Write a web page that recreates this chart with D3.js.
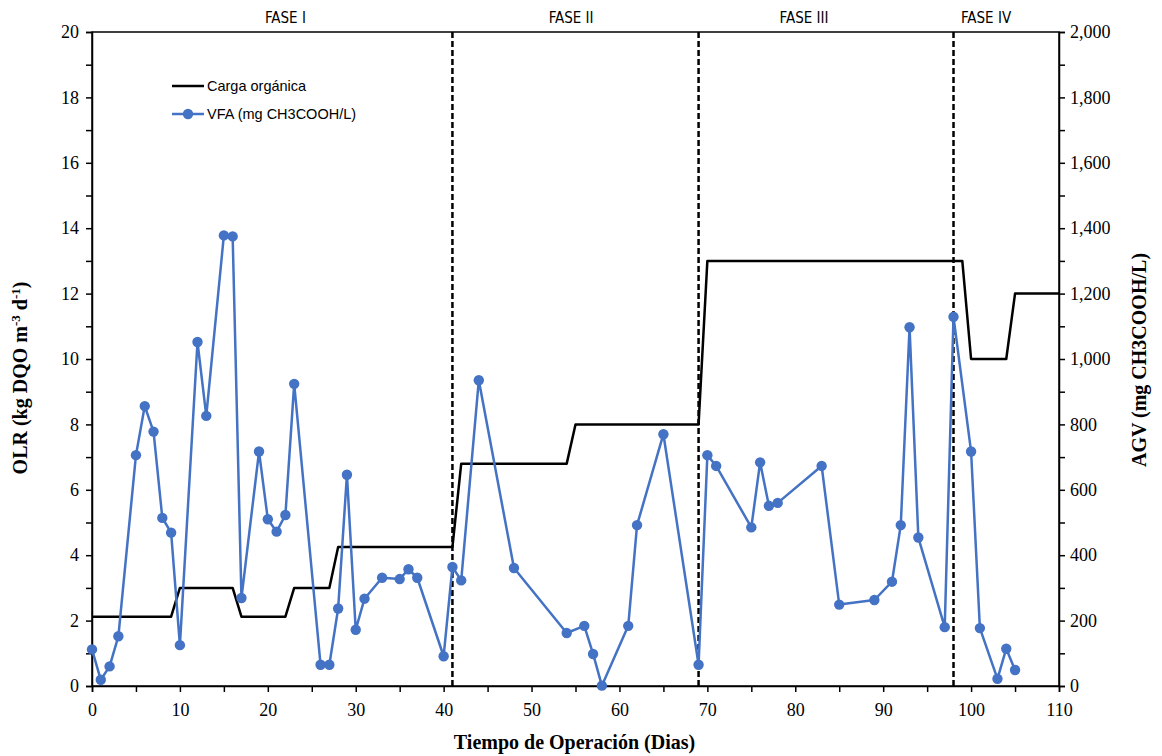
<!DOCTYPE html>
<html>
<head>
<meta charset="utf-8">
<script src="https://cdn.jsdelivr.net/npm/d3@7"></script>
<style>
  html, body { margin: 0; padding: 0; background: #fff; }
  svg { display: block; }
</style>
</head>
<body>
<svg id="chart" width="1162" height="756"></svg>
<script>
// Organic loading rate (kg DQO m-3 d-1): step profile, day / value
const olrDays   = [0, 9, 10, 16, 17, 22, 23, 27, 28, 41, 42, 54, 55, 69, 70, 99, 100, 104, 105, 110];
const olrValues = [2.12, 2.12, 3, 3, 2.12, 2.12, 3, 3, 4.25, 4.25, 6.8, 6.8, 8, 8, 13, 13, 10, 10, 12, 12];

// Volatile fatty acids (mg CH3COOH/L)
const vfaDays   = [0, 1, 2, 3, 5, 6, 7, 8, 9, 10, 12, 13, 15, 16, 17, 19, 20, 21, 22, 23,
                   26, 27, 28, 29, 30, 31, 33, 35, 36, 37, 40, 41, 42, 44, 48, 54, 56, 57, 58,
                   61, 62, 65, 69, 70, 71, 75, 76, 77, 78, 83, 85, 89, 91, 92, 93, 94, 97, 98,
                   100, 101, 103, 104, 105];
const vfaValues = [112, 19, 60, 152, 706, 856, 778, 514, 469, 125, 1052, 826, 1378, 1375, 269, 717, 510, 472, 523, 924,
                   65, 65, 237, 646, 172, 267, 331, 327, 357, 331, 91, 364, 323, 935, 361, 162, 184, 98, 1,
                   184, 492, 770, 65, 706, 673, 485, 684, 551, 560, 673, 249, 263, 319, 492, 1097, 454, 180, 1129,
                   717, 177, 22, 114, 49];

// Phase boundaries and labels
const phaseBounds = [41, 69, 98];
const phaseNames  = ["FASE I", "FASE II", "FASE III", "FASE IV"];
const phaseLabelX = [22, 54.5, 81, 101.7];

const svg = d3.select("#chart");
const m = { left: 92, right: 1059, top: 32, bottom: 686 };

const x  = d3.scaleLinear().domain([0, 110]).range([m.left, m.right]);
const yL = d3.scaleLinear().domain([0, 20]).range([m.bottom, m.top]);
const yR = d3.scaleLinear().domain([0, 2000]).range([m.bottom, m.top]);

const serif = "'Liberation Serif', 'Times New Roman', serif";

// Frame
svg.append("rect")
  .attr("x", m.left).attr("y", m.top)
  .attr("width", m.right - m.left).attr("height", m.bottom - m.top)
  .attr("fill", "none").attr("stroke", "#000").attr("stroke-width", 1.5);

// Axes: minor ticks unlabeled, major ticks labeled
const gx = svg.append("g").attr("transform", `translate(0,${m.bottom})`)
  .call(d3.axisBottom(x).tickValues(d3.range(0, 111, 5)).tickSize(6)
    .tickFormat(d => d % 10 === 0 ? d : ""));
const gl = svg.append("g").attr("transform", `translate(${m.left},0)`)
  .call(d3.axisLeft(yL).tickValues(d3.range(0, 21, 1)).tickSize(6)
    .tickFormat(d => d % 2 === 0 ? d : ""));
const gr = svg.append("g").attr("transform", `translate(${m.right},0)`)
  .call(d3.axisRight(yR).tickValues(d3.range(0, 2001, 100)).tickSize(6)
    .tickFormat(d => d % 200 === 0 ? d3.format(",")(d) : ""));

[gx, gl, gr].forEach(g => {
  g.select(".domain").attr("stroke-width", 1.5);
  g.selectAll(".tick line").attr("stroke-width", 1.5);
  g.selectAll("text").attr("font-family", serif).attr("font-size", 18).attr("fill", "#000");
});
gx.selectAll("text").attr("dy", "1.15em");
gl.selectAll("text").attr("x", -13);
gr.selectAll("text").attr("x", 11);

// Phase separators
svg.append("g").selectAll("line").data(phaseBounds).join("line")
  .attr("x1", d => x(d)).attr("x2", d => x(d))
  .attr("y1", m.top).attr("y2", m.bottom)
  .attr("stroke", "#000").attr("stroke-width", 2.5)
  .attr("stroke-dasharray", "6,3");

svg.append("g").selectAll("text").data(phaseNames).join("text")
  .attr("x", (d, i) => x(phaseLabelX[i])).attr("y", 23)
  .attr("text-anchor", "middle")
  .attr("font-family", "'Liberation Sans Narrow', 'DejaVu Sans Condensed', sans-serif")
  .attr("font-size", 15).attr("fill", "#000")
  .text(d => d);

// Organic loading line
const olr = olrDays.map((d, i) => [d, olrValues[i]]);
svg.append("path").datum(olr)
  .attr("fill", "none").attr("stroke", "#000").attr("stroke-width", 2.5)
  .attr("stroke-linejoin", "round")
  .attr("d", d3.line().x(d => x(d[0])).y(d => yL(d[1])));

// VFA line with markers
const vfa = vfaDays.map((d, i) => [d, vfaValues[i]]);
const blue = "#4472C4";
svg.append("path").datum(vfa)
  .attr("fill", "none").attr("stroke", blue).attr("stroke-width", 2.5)
  .attr("stroke-linejoin", "round")
  .attr("d", d3.line().x(d => x(d[0])).y(d => yR(d[1])));
svg.append("g").selectAll("circle").data(vfa).join("circle")
  .attr("cx", d => x(d[0])).attr("cy", d => yR(d[1]))
  .attr("r", 5.2).attr("fill", blue);

// Legend
const lg = svg.append("g").attr("font-family", "'Liberation Sans', Arial, sans-serif")
  .attr("font-size", 14.5).attr("fill", "#000");
lg.append("line").attr("x1", 172).attr("x2", 204).attr("y1", 86).attr("y2", 86)
  .attr("stroke", "#000").attr("stroke-width", 2.5);
lg.append("text").attr("x", 207).attr("y", 91).text("Carga orgánica");
lg.append("line").attr("x1", 172).attr("x2", 204).attr("y1", 114).attr("y2", 114)
  .attr("stroke", blue).attr("stroke-width", 2.5);
lg.append("circle").attr("cx", 188).attr("cy", 114).attr("r", 5.2).attr("fill", blue);
lg.append("text").attr("x", 207).attr("y", 119).text("VFA (mg CH3COOH/L)");

// Axis titles
svg.append("text")
  .attr("x", (m.left + m.right) / 2 - 1).attr("y", 749)
  .attr("text-anchor", "middle")
  .attr("font-family", serif).attr("font-size", 20).attr("font-weight", "bold")
  .text("Tiempo de Operación (Dias)");

const lt = svg.append("text")
  .attr("transform", `translate(27,378) rotate(-90)`)
  .attr("text-anchor", "middle")
  .attr("font-family", serif).attr("font-size", 20).attr("font-weight", "bold");
lt.append("tspan").text("OLR (kg DQO m");
lt.append("tspan").attr("dy", -7).attr("font-size", 13).text("-3");
lt.append("tspan").attr("dy", 7).text(" d");
lt.append("tspan").attr("dy", -7).attr("font-size", 13).text("-1");
lt.append("tspan").attr("dy", 7).text(")");

svg.append("text")
  .attr("transform", `translate(1146,360) rotate(-90)`)
  .attr("text-anchor", "middle")
  .attr("font-family", serif).attr("font-size", 20).attr("font-weight", "bold")
  .text("AGV (mg CH3COOH/L)");
</script>
</body>
</html>
